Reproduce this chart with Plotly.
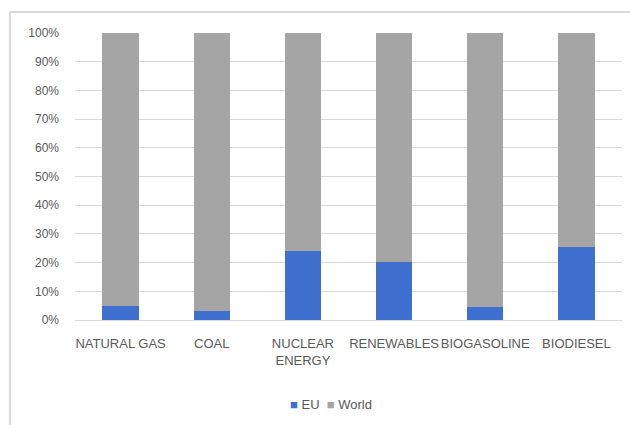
import plotly.graph_objects as go

categories = ["NATURAL GAS", "COAL", "NUCLEAR<br>ENERGY", "RENEWABLES", "BIOGASOLINE", "BIODIESEL"]
eu_share = [4.9, 3.2, 24.1, 20.3, 4.6, 25.3]
world_share = [95.1, 96.8, 75.9, 79.7, 95.4, 74.7]
y_ticks = [0, 10, 20, 30, 40, 50, 60, 70, 80, 90, 100]
y_tick_labels = ["0%", "10%", "20%", "30%", "40%", "50%", "60%", "70%", "80%", "90%", "100%"]

font_family = "Liberation Sans, Arial, sans-serif"
text_color = "#595959"
eu_color = "#3F6FCF"
world_color = "#A5A5A5"

fig = go.Figure()
fig.add_trace(go.Bar(x=categories, y=eu_share, name="EU", marker_color=eu_color,
                     marker_line_width=0, hoverinfo="skip"))
fig.add_trace(go.Bar(x=categories, y=world_share, name="World", marker_color=world_color,
                     marker_line_width=0, hoverinfo="skip"))

# compact legend: small squares set right against their labels
legend_text = (f"<span style='color:{eu_color}'>■</span> EU  "
               f"<span style='color:{world_color}'>■</span> World")

fig.update_layout(
    width=630, height=425,
    margin=dict(l=75, r=8, t=33, b=105),
    barmode="stack", barnorm="percent", bargap=0.6,
    paper_bgcolor="white", plot_bgcolor="white",
    font=dict(family=font_family, size=13, color=text_color),
    showlegend=False,
    xaxis=dict(showgrid=False, showline=False, ticks="", tickangle=0,
               ticklabelstandoff=14,
               tickfont=dict(size=13, color=text_color)),
    yaxis=dict(range=[0, 100], tickmode="array", tickvals=y_ticks, ticktext=y_tick_labels,
               showgrid=True, gridcolor="#D9D9D9", gridwidth=1,
               zeroline=True, zerolinecolor="#D9D9D9", zerolinewidth=1,
               showline=False, ticks="", ticklabelstandoff=15,
               tickfont=dict(size=12, color=text_color)),
    annotations=[
        dict(text=legend_text, xref="paper", yref="paper", x=0.468, y=-0.296,
             xanchor="center", yanchor="middle", showarrow=False,
             font=dict(size=13, color=text_color)),
    ],
    shapes=[
        dict(type="line", xref="paper", yref="paper", x0=-0.119, x1=1.1, y0=1.073, y1=1.073,
             line=dict(color="#D9D9D9", width=2)),
        dict(type="line", xref="paper", yref="paper", x0=-0.119, x1=-0.119, y0=-0.4, y1=1.073,
             line=dict(color="#D9D9D9", width=2)),
    ],
)

fig.write_html("out.html")
